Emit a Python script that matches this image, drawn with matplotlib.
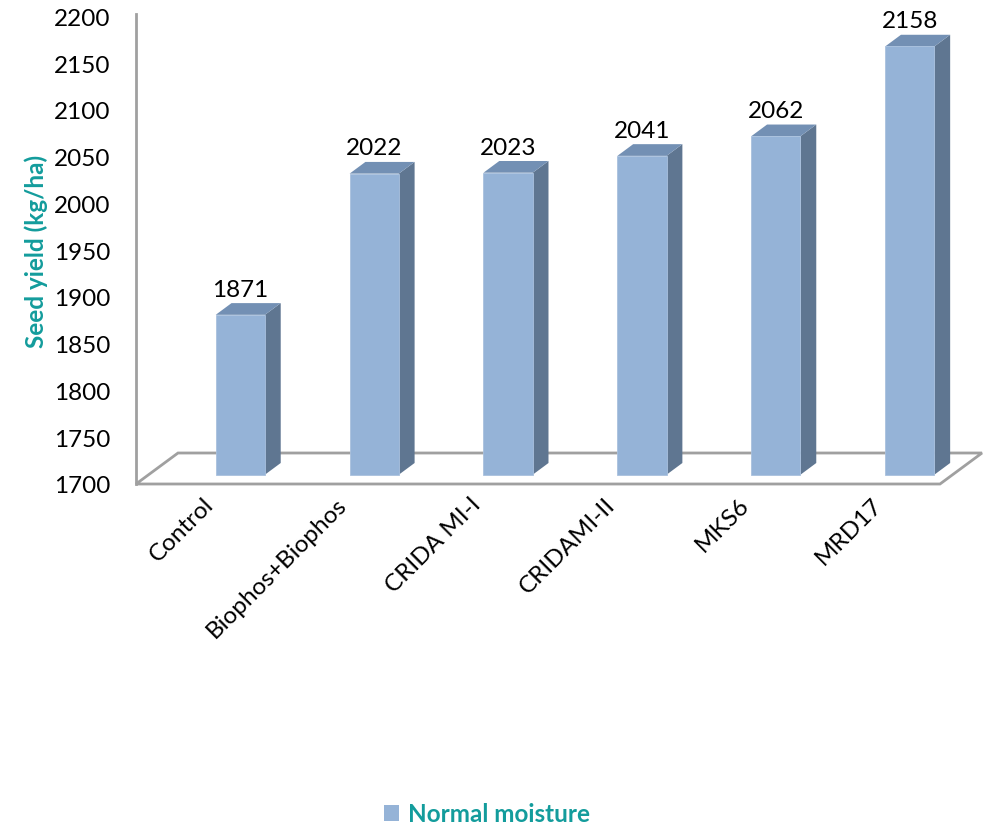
import matplotlib.pyplot as plt
from matplotlib.patches import Polygon, Patch
from matplotlib.transforms import offset_copy, ScaledTranslation
import numpy as np

categories = ['Control', 'Biophos+Biophos', 'CRIDA MI-I', 'CRIDAMI-II', 'MKS6', 'MRD17']
seed_yield = [1871, 2022, 2023, 2041, 2062, 2158]
series_name = 'Normal moisture'
y_ticks = np.arange(1700, 2201, 50)
y_base = 1700

front_col = '#95B3D7'
top_col = '#7390B4'
side_col = '#5F7691'
grid_col = '#A0A0A0'
teal = '#139C9C'

plt.rcParams['font.family'] = ['Lato', 'DejaVu Sans']

W, H = 995, 829
fig = plt.figure(figsize=(W / 100, H / 100), dpi=100)
# axes box in pixels: left edge 136, right 940, 1700 at y=485, 2200 at y=17.5
ax = fig.add_axes([136 / W, (H - 485) / H, (940 - 136) / W, (485 - 17.5) / H])
ax.set_xlim(-0.685, 5.32)
ax.set_ylim(1700, 2200)

px_x = (940 - 136) / (5.32 + 0.685)   # pixels per category
px_y = (485 - 17.5) / 500.0           # pixels per kg/ha

# bars sit a little behind the front plane of the floor
bar_tr = offset_copy(ax.transData, fig=fig, x=12.6, y=9.3, units='dots')
depth_dx = 15.8 / px_x
depth_dy = 11.7 / px_y
half_w = 24.6 / px_x

# floor outline
floor_dx = 42 / px_x
floor_dy = 31 / px_y
x0, x1 = ax.get_xlim()
floor = Polygon([(x0, y_base), (x1, y_base), (x1 + floor_dx, y_base + floor_dy),
                 (x0 + floor_dx, y_base + floor_dy)], closed=True, fill=False,
                edgecolor=grid_col, lw=2.0, clip_on=False, zorder=1)
ax.add_patch(floor)

pos = np.arange(len(categories))
for c, v in zip(pos, seed_yield):
    l, r = c - half_w, c + half_w
    side = Polygon([(r, y_base), (r, v), (r + depth_dx, v + depth_dy), (r + depth_dx, y_base + depth_dy)],
                   closed=True, facecolor=side_col, edgecolor='none', transform=bar_tr, clip_on=False, zorder=2)
    top = Polygon([(l, v), (r, v), (r + depth_dx, v + depth_dy), (l + depth_dx, v + depth_dy)],
                  closed=True, facecolor=top_col, edgecolor='none', transform=bar_tr, clip_on=False, zorder=2)
    front = Polygon([(l, y_base), (r, y_base), (r, v), (l, v)],
                    closed=True, facecolor=front_col, edgecolor='#A9C1DE', lw=0.6, transform=bar_tr,
                    clip_on=False, zorder=3)
    for p in (side, top, front):
        ax.add_patch(p)
    ax.annotate(str(v), (c, v), xycoords=bar_tr, xytext=(0, 18.5), textcoords='offset points',
                ha='center', va='center', fontsize=17.5, annotation_clip=False)

ax.set_yticks(y_ticks)
ax.tick_params(axis='y', length=0, pad=18.5, labelsize=17.5)
ax.set_xticks(pos)
ax.set_xticklabels(categories, rotation=45, ha='right', va='center', rotation_mode='anchor', fontsize=17.5)
ax.tick_params(axis='x', length=0, pad=12)
shift = ScaledTranslation(-18 / 100, 0, fig.dpi_scale_trans)
for lab in ax.get_xticklabels():
    lab.set_transform(lab.get_transform() + shift)

for s in ('top', 'right', 'bottom'):
    ax.spines[s].set_visible(False)
ax.spines['left'].set_color(grid_col)
ax.spines['left'].set_linewidth(2.0)
ax.spines['left'].set_bounds(1700, 2203)
ax.set_facecolor('none')

ax.set_ylabel('Seed yield (kg/ha)', color=teal, fontweight='bold', fontsize=17.5, va='center')
ax.yaxis.set_label_coords((36 - 136) / (940 - 136), 0.5)

fig.legend(handles=[Patch(facecolor=front_col, edgecolor='none')], labels=[series_name],
           loc='center', bbox_to_anchor=(487 / W, 1 - 815 / H), frameon=False,
           handlelength=0.6, handleheight=0.6, handletextpad=0.35,
           prop={'weight': 'bold', 'size': 17.5}, labelcolor=teal)

fig.savefig('out.png', dpi=100)
